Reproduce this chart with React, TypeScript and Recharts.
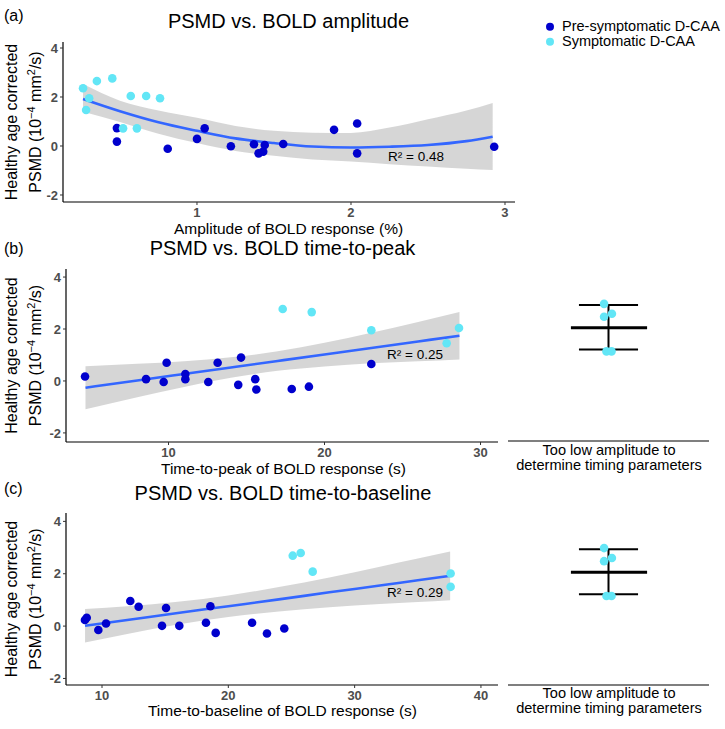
import React from 'react';
import { ComposedChart, Scatter, Line, Area, XAxis, YAxis } from 'recharts';

const FONT = '"Liberation Sans", Arial, Helvetica, sans-serif';
const PRE = '#0000CD';
const SYM = '#62E6F6';
const FIT = '#3366FF';

// (a) PSMD vs amplitude
const ampPre = [
  { x: 0.48, y: 0.73 }, { x: 0.48, y: 0.18 }, { x: 0.81, y: -0.11 }, { x: 1.0, y: 0.29 },
  { x: 1.05, y: 0.72 }, { x: 1.22, y: -0.01 }, { x: 1.37, y: 0.07 }, { x: 1.4, y: -0.3 },
  { x: 1.43, y: -0.23 }, { x: 1.44, y: 0.04 }, { x: 1.56, y: 0.08 }, { x: 1.89, y: 0.66 },
  { x: 2.04, y: 0.92 }, { x: 2.04, y: -0.3 }, { x: 2.93, y: -0.03 },
];
const ampSym = [
  { x: 0.26, y: 2.36 }, { x: 0.28, y: 1.47 }, { x: 0.3, y: 1.95 }, { x: 0.35, y: 2.65 },
  { x: 0.45, y: 2.76 }, { x: 0.52, y: 0.72 }, { x: 0.57, y: 2.04 }, { x: 0.61, y: 0.72 },
  { x: 0.67, y: 2.04 }, { x: 0.76, y: 1.95 },
];
const ampFitX = [0.26, 0.5, 0.75, 1.0, 1.25, 1.5, 1.75, 2.0, 2.25, 2.5, 2.75, 2.92];
const ampFitY = [1.92, 1.42, 0.97, 0.62, 0.31, 0.12, -0.02, -0.06, -0.03, 0.04, 0.2, 0.38];
const ampFitLow = [1.4, 0.98, 0.5, 0.12, -0.2, -0.4, -0.55, -0.63, -0.74, -0.84, -0.93, -0.98];
const ampFitHigh = [2.53, 1.85, 1.45, 1.15, 0.82, 0.62, 0.54, 0.53, 0.75, 1.09, 1.45, 1.76];

// (b) PSMD vs time-to-peak
const ttpPre = [
  { x: 4.65, y: 0.17 }, { x: 8.56, y: 0.07 }, { x: 9.69, y: -0.04 }, { x: 9.88, y: 0.7 },
  { x: 11.08, y: 0.27 }, { x: 11.08, y: 0.07 }, { x: 12.55, y: -0.04 }, { x: 13.15, y: 0.7 },
  { x: 14.47, y: -0.15 }, { x: 14.65, y: 0.9 }, { x: 15.56, y: 0.07 }, { x: 15.63, y: -0.33 },
  { x: 17.9, y: -0.31 }, { x: 19.0, y: -0.22 }, { x: 23.0, y: 0.65 },
];
const ttpSym = [
  { x: 17.32, y: 2.77 }, { x: 19.18, y: 2.65 }, { x: 23.0, y: 1.95 }, { x: 27.83, y: 1.45 },
  { x: 28.62, y: 2.04 },
];
const ttpFitX = [4.68, 8, 11, 14, 17, 20, 23, 26, 28.65];
const ttpFitY = [-0.26, 0.02, 0.27, 0.52, 0.77, 1.02, 1.27, 1.52, 1.74];
const ttpFitLow = [-1.09, -0.63, -0.23, 0.12, 0.39, 0.56, 0.68, 0.76, 0.83];
const ttpFitHigh = [0.57, 0.66, 0.76, 0.91, 1.14, 1.47, 1.86, 2.27, 2.65];

// (c) PSMD vs time-to-baseline
const ttbPre = [
  { x: 8.65, y: 0.23 }, { x: 8.79, y: 0.32 }, { x: 9.71, y: -0.15 }, { x: 10.32, y: 0.1 },
  { x: 12.24, y: 0.96 }, { x: 12.9, y: 0.74 }, { x: 14.75, y: 0.01 }, { x: 15.07, y: 0.69 },
  { x: 16.12, y: 0.01 }, { x: 18.23, y: 0.13 }, { x: 18.58, y: 0.76 }, { x: 19.0, y: -0.26 },
  { x: 21.88, y: 0.13 }, { x: 23.06, y: -0.28 }, { x: 24.43, y: -0.09 },
];
const ttbSym = [
  { x: 25.1, y: 2.69 }, { x: 25.73, y: 2.79 }, { x: 26.68, y: 2.08 }, { x: 37.6, y: 2.01 },
  { x: 37.6, y: 1.5 },
];
const ttbFitX = [8.66, 12, 16, 20, 24, 28, 32, 35, 37.56];
const ttbFitY = [0.01, 0.23, 0.5, 0.76, 1.02, 1.29, 1.55, 1.75, 1.92];
const ttbFitLow = [-0.63, -0.3, 0.06, 0.35, 0.56, 0.72, 0.84, 0.92, 0.99];
const ttbFitHigh = [0.65, 0.76, 0.93, 1.17, 1.49, 1.86, 2.27, 2.58, 2.85];

// side panels: symptomatic patients with too low amplitude (mean ± SD)
const ttpLow = [{ x: 0.478, y: 2.96 }, { x: 0.517, y: 2.58 }, { x: 0.478, y: 2.46 }, { x: 0.49, y: 1.12 }, { x: 0.515, y: 1.12 }];
const ttpLowStats = { mean: 2.04, lo: 1.19, hi: 2.92 };
const ttbLow = [{ x: 0.478, y: 2.98 }, { x: 0.517, y: 2.6 }, { x: 0.478, y: 2.48 }, { x: 0.49, y: 1.15 }, { x: 0.515, y: 1.15 }];
const ttbLowStats = { mean: 2.06, lo: 1.22, hi: 2.94 };

const yTicks = [-2, 0, 2, 4];

const fitTable = (xs: number[], ys: number[], lo: number[], hi: number[]) =>
  xs.map((x, i) => ({ x, y: ys[i], band: [lo[i], hi[i]] }));

const dot = (color: string) => (p: any) => (
  <circle cx={p.cx} cy={p.cy} r={4.3} fill={color} />
);

const tickStyle = { fill: '#4D4D4D', fontSize: 13, fontWeight: 'bold', fontFamily: FONT };

interface PanelProps {
  top: number;
  plotLeft: number;
  plotRight: number;
  plotTop: number;
  plotBottom: number;
  xDomain: [number, number];
  xTicks: number[];
  yDomain: [number, number];
  pre: { x: number; y: number }[];
  sym: { x: number; y: number }[];
  fit: { x: number; y: number; band: number[] }[];
}

function Panel({ top, plotLeft, plotRight, plotTop, plotBottom, xDomain, xTicks, yDomain, pre, sym, fit }: PanelProps) {
  const W = 540;
  const H = 240;
  return (
    <div style={{ position: 'absolute', left: 0, top, width: W, height: H }}>
      <ComposedChart width={W} height={H} margin={{ top: plotTop - top, right: W - plotRight, left: 0, bottom: 0 }}>
        <XAxis
          type="number"
          dataKey="x"
          domain={xDomain}
          ticks={xTicks}
          allowDataOverflow
          height={H - (plotBottom - top)}
          tick={tickStyle}
          tickSize={3}
          tickMargin={3}
          tickLine={{ stroke: '#333' }}
          axisLine={{ stroke: '#000', strokeWidth: 1.2 }}
        />
        <YAxis
          type="number"
          domain={yDomain}
          ticks={yTicks}
          allowDataOverflow
          width={plotLeft}
          tick={tickStyle}
          tickSize={3}
          tickMargin={2}
          tickLine={{ stroke: '#333' }}
          axisLine={{ stroke: '#000', strokeWidth: 1.2 }}
        />
        <Scatter data={pre} dataKey="y" shape={dot(PRE)} isAnimationActive={false} />
        <Scatter data={sym} dataKey="y" shape={dot(SYM)} isAnimationActive={false} />
        <Area data={fit} dataKey="band" type="monotone" stroke="none" fill="#999999" fillOpacity={0.4} isAnimationActive={false} />
        <Line data={fit} dataKey="y" type="monotone" stroke={FIT} strokeWidth={2.6} dot={false} isAnimationActive={false} />
      </ComposedChart>
    </div>
  );
}

interface SideProps {
  top: number;
  plotTop: number;
  plotBottom: number;
  yDomain: [number, number];
  pts: { x: number; y: number }[];
  stats: { mean: number; lo: number; hi: number };
}

function SidePanel({ top, plotTop, plotBottom, yDomain, pts, stats }: SideProps) {
  const W = 201;
  const H = 240;
  const seg = (x0: number, y0: number, x1: number, y1: number) => [{ x: x0, y: y0 }, { x: x1, y: y1 }];
  const lines = [
    { d: seg(0.5, stats.lo, 0.5, stats.hi), w: 2 },
    { d: seg(0.353, stats.hi, 0.647, stats.hi), w: 2 },
    { d: seg(0.353, stats.lo, 0.647, stats.lo), w: 2 },
    { d: seg(0.313, stats.mean, 0.692, stats.mean), w: 3 },
  ];
  return (
    <div style={{ position: 'absolute', left: 508, top, width: W, height: H }}>
      <ComposedChart width={W} height={H} margin={{ top: plotTop - top, right: 0, left: 0, bottom: 0 }}>
        <XAxis
          type="number"
          dataKey="x"
          domain={[0, 1]}
          height={H - (plotBottom - top)}
          tick={false}
          tickLine={false}
          axisLine={{ stroke: '#000', strokeWidth: 1.2 }}
        />
        <YAxis type="number" domain={yDomain} hide width={0} />
        {lines.map((l, i) => (
          <Line key={i} data={l.d} dataKey="y" stroke="#000" strokeWidth={l.w} dot={false} isAnimationActive={false} />
        ))}
        <Scatter data={pts} dataKey="y" shape={dot(SYM)} isAnimationActive={false} />
      </ComposedChart>
    </div>
  );
}

function YLabel({ cy }: { cy: number }) {
  return (
    <g fontSize={16}>
      <text transform={`translate(16.5, ${cy}) rotate(-90)`} textAnchor="middle">Healthy age corrected</text>
      <text transform={`translate(41, ${cy}) rotate(-90)`} textAnchor="middle">
        PSMD (10<tspan dy={-6} fontSize={11}>−4</tspan>
        <tspan dy={6}> mm</tspan>
        <tspan dy={-6} fontSize={11}>2</tspan>
        <tspan dy={6}>/s)</tspan>
      </text>
    </g>
  );
}

export default function App() {
  const yA: [number, number] = [-2.286, 4.245];
  const yB: [number, number] = [-2.35, 4.31];
  const yC: [number, number] = [-2.25, 4.32];
  return (
    <div style={{ position: 'absolute', left: 0, top: 0, width: 725, height: 729, background: '#fff', fontFamily: FONT }}>
      <Panel top={0} plotLeft={63} plotRight={515} plotTop={42} plotBottom={202}
        xDomain={[0.13, 3.065]} xTicks={[1, 2, 3]} yDomain={yA}
        pre={ampPre} sym={ampSym} fit={fitTable(ampFitX, ampFitY, ampFitLow, ampFitHigh)} />
      <Panel top={240} plotLeft={66} plotRight={498} plotTop={269} plotBottom={442}
        xDomain={[3.43, 31.12]} xTicks={[10, 20, 30]} yDomain={yB}
        pre={ttpPre} sym={ttpSym} fit={fitTable(ttpFitX, ttpFitY, ttpFitLow, ttpFitHigh)} />
      <Panel top={480} plotLeft={66} plotRight={498} plotTop={513} plotBottom={685}
        xDomain={[7.15, 41.35]} xTicks={[10, 20, 30, 40]} yDomain={yC}
        pre={ttbPre} sym={ttbSym} fit={fitTable(ttbFitX, ttbFitY, ttbFitLow, ttbFitHigh)} />
      <SidePanel top={240} plotTop={269} plotBottom={441} yDomain={yB} pts={ttpLow} stats={ttpLowStats} />
      <SidePanel top={480} plotTop={513} plotBottom={685} yDomain={yC} pts={ttbLow} stats={ttbLowStats} />

      <svg width={725} height={729} style={{ position: 'absolute', left: 0, top: 0, pointerEvents: 'none' }} fontFamily={FONT}>
        <text x={4} y={21} fontSize={16}>(a)</text>
        <text x={4} y={254} fontSize={16}>(b)</text>
        <text x={4} y={494} fontSize={16}>(c)</text>

        <text x={288.5} y={28} fontSize={20} textAnchor="middle">PSMD vs. BOLD amplitude</text>
        <text x={282.5} y={255} fontSize={20} textAnchor="middle">PSMD vs. BOLD time-to-peak</text>
        <text x={283} y={500} fontSize={20} textAnchor="middle">PSMD vs. BOLD time-to-baseline</text>

        <text x={288.5} y={233.5} fontSize={15.5} textAnchor="middle">Amplitude of BOLD response (%)</text>
        <text x={283.5} y={474} fontSize={15.5} textAnchor="middle">Time-to-peak of BOLD response (s)</text>
        <text x={282.5} y={716} fontSize={15.5} textAnchor="middle">Time-to-baseline of BOLD response (s)</text>

        <YLabel cy={122} />
        <YLabel cy={355.5} />
        <YLabel cy={599} />

        <text x={388} y={161} fontSize={13.5}>R² = 0.48</text>
        <text x={387} y={359} fontSize={13.5}>R² = 0.25</text>
        <text x={387} y={597} fontSize={13.5}>R² = 0.29</text>

        <g fontSize={14.6} textAnchor="middle">
          <text x={609} y={454.5}>Too low amplitude to</text>
          <text x={609} y={469.5}>determine timing parameters</text>
          <text x={609} y={698}>Too low amplitude to</text>
          <text x={609} y={713}>determine timing parameters</text>
        </g>

        <circle cx={550} cy={26.7} r={4} fill={PRE} />
        <circle cx={550} cy={41.7} r={4} fill={SYM} />
        <text x={562} y={31} fontSize={14.5}>Pre-symptomatic D-CAA</text>
        <text x={562} y={46} fontSize={14.5}>Symptomatic D-CAA</text>
      </svg>
    </div>
  );
}
